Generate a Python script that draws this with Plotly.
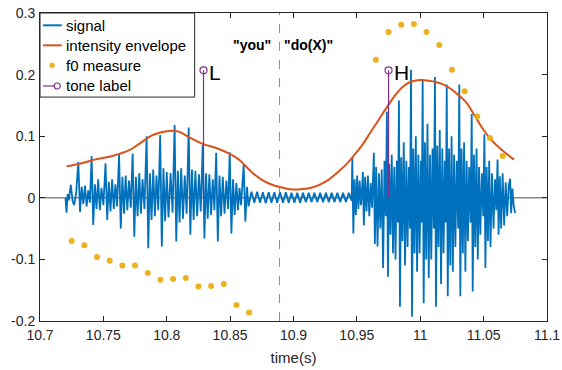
import plotly.graph_objects as go

# ---------------- data ----------------
time_ticks = [10.7, 10.75, 10.8, 10.85, 10.9, 10.95, 11.0, 11.05, 11.1]
time_tick_labels = ["10.7", "10.75", "10.8", "10.85", "10.9", "10.95", "11", "11.05", "11.1"]
amp_ticks = [-0.2, -0.1, 0.0, 0.1, 0.2, 0.3]
amp_tick_labels = ["-0.2", "-0.1", "0", "0.1", "0.2", "0.3"]

# speech signal, first voiced burst (time s, amplitude)
burst1 = [
    (10.7201, 0.000), (10.7209, -0.024), (10.7218, 0.006), (10.7227, -0.004),
    (10.7243, 0.021), (10.7258, -0.006), (10.7270, -0.012), (10.7286, 0.010),
    (10.7302, 0.058), (10.7316, -0.023), (10.7329, 0.018), (10.7342, -0.010),
    (10.7355, 0.020), (10.7368, -0.014), (10.7381, 0.012), (10.7394, -0.008),
    (10.7407, 0.068), (10.7420, -0.044), (10.7433, 0.022), (10.7446, -0.018),
    (10.7459, 0.030), (10.7472, -0.020), (10.7485, 0.016), (10.7500, -0.012),
    (10.7517, 0.056), (10.7530, -0.036), (10.7543, 0.026), (10.7556, -0.022),
    (10.7569, 0.030), (10.7582, -0.018), (10.7595, 0.022), (10.7608, -0.014),
    (10.7624, 0.070), (10.7637, -0.050), (10.7650, 0.034), (10.7663, -0.026),
    (10.7676, 0.036), (10.7689, -0.020), (10.7702, 0.028), (10.7716, -0.016),
    (10.7731, 0.072), (10.7744, -0.063), (10.7757, 0.034), (10.7770, -0.030),
    (10.7783, 0.040), (10.7796, -0.026), (10.7809, 0.030), (10.7824, -0.018),
    (10.7841, 0.100), (10.7854, -0.082), (10.7867, 0.040), (10.7880, -0.036),
    (10.7893, 0.046), (10.7906, -0.030), (10.7919, 0.036), (10.7933, -0.020),
    (10.7948, 0.102), (10.7961, -0.079), (10.7974, 0.048), (10.7987, -0.038),
    (10.8000, 0.042), (10.8014, -0.032), (10.8030, 0.040), (10.8046, -0.024),
    (10.8062, 0.118), (10.8075, -0.071), (10.8088, 0.044), (10.8101, -0.040),
    (10.8114, 0.048), (10.8128, -0.034), (10.8142, 0.036), (10.8157, -0.026),
    (10.8173, 0.114), (10.8186, -0.060), (10.8199, 0.046), (10.8212, -0.036),
    (10.8226, 0.044), (10.8240, -0.030), (10.8254, 0.038), (10.8268, -0.022),
    (10.8284, 0.086), (10.8297, -0.066), (10.8310, 0.040), (10.8323, -0.034),
    (10.8336, 0.038), (10.8350, -0.028), (10.8363, 0.030), (10.8376, -0.020),
    (10.8390, 0.073), (10.8403, -0.071), (10.8416, 0.036), (10.8429, -0.030),
    (10.8442, 0.034), (10.8456, -0.026), (10.8470, 0.028), (10.8484, -0.018),
    (10.8497, 0.074), (10.8510, -0.058), (10.8523, 0.030), (10.8536, -0.028),
    (10.8549, 0.024), (10.8562, -0.020), (10.8574, 0.016), (10.8586, -0.012),
    (10.8607, 0.053), (10.8620, -0.039), (10.8633, 0.018), (10.8645, -0.014),
]

# low-level hum between the two words
hum = [
    (10.8668, 0.010), (10.8691, -0.008), (10.8713, 0.010), (10.8736, -0.008),
    (10.8758, 0.009), (10.8781, -0.009), (10.8804, 0.009), (10.8826, -0.008),
    (10.8849, 0.009), (10.8871, -0.008), (10.8894, 0.009), (10.8917, -0.008),
    (10.8939, 0.009), (10.8962, -0.008), (10.8984, 0.008), (10.9007, -0.008),
    (10.9030, 0.008), (10.9052, -0.008), (10.9075, 0.008), (10.9097, -0.007),
    (10.9120, 0.008), (10.9143, -0.007), (10.9165, 0.008), (10.9188, -0.007),
    (10.9210, 0.008), (10.9233, -0.007), (10.9256, 0.008), (10.9278, -0.007),
    (10.9301, 0.008), (10.9323, -0.007), (10.9346, 0.008), (10.9369, -0.007),
    (10.9391, 0.008), (10.9414, -0.007), (10.9436, 0.008), (10.9459, -0.005),
]

# second voiced burst
burst2 = [
    (10.9464, 0.066), (10.9472, -0.058), (10.9482, 0.030), (10.9492, -0.028),
    (10.9502, 0.036), (10.9512, -0.018), (10.9522, 0.028), (10.9532, -0.012),
    (10.9540, 0.010),
    (10.9547, 0.042), (10.9555, -0.045), (10.9565, 0.034), (10.9576, -0.022),
    (10.9587, 0.036), (10.9598, -0.030), (10.9609, 0.024), (10.9620, -0.016),
    (10.9634, 0.073), (10.9642, -0.075), (10.9652, 0.050), (10.9663, -0.079),
    (10.9674, 0.040), (10.9685, -0.050), (10.9696, 0.046), (10.9707, -0.114),
    (10.9718, 0.060), (10.9728, -0.030),
    (10.9737, 0.140), (10.9745, -0.128), (10.9755, 0.055), (10.9765, -0.060),
    (10.9775, 0.070), (10.9785, -0.090), (10.9795, 0.050), (10.9805, -0.100),
    (10.9815, 0.060), (10.9824, -0.040),
    (10.9832, 0.158), (10.9840, -0.177), (10.9850, 0.066), (10.9860, -0.070),
    (10.9870, 0.090), (10.9880, -0.110), (10.9890, 0.060), (10.9900, -0.080),
    (10.9910, 0.050), (10.9919, -0.050),
    (10.9927, 0.208), (10.9935, -0.193), (10.9945, 0.080), (10.9955, -0.090),
    (10.9965, 0.100), (10.9975, -0.120), (10.9985, 0.070), (10.9995, -0.090),
    (11.0005, 0.060), (11.0012, -0.040),
    (11.0019, 0.192), (11.0027, -0.171), (11.0037, 0.090), (11.0047, -0.100),
    (11.0057, 0.120), (11.0067, -0.130), (11.0077, 0.070), (11.0087, -0.100),
    (11.0097, 0.080), (11.0107, -0.050),
    (11.0116, 0.196), (11.0124, -0.177), (11.0134, 0.085), (11.0144, -0.080),
    (11.0154, 0.110), (11.0164, -0.140), (11.0174, 0.080), (11.0184, -0.090),
    (11.0194, 0.060), (11.0202, -0.040),
    (11.0209, 0.184), (11.0217, -0.160), (11.0227, 0.080), (11.0237, -0.110),
    (11.0247, 0.100), (11.0257, -0.120), (11.0267, 0.070), (11.0277, -0.080),
    (11.0288, 0.060), (11.0299, -0.050),
    (11.0308, 0.184), (11.0316, -0.160), (11.0326, 0.080), (11.0336, -0.090),
    (11.0346, 0.090), (11.0356, -0.120), (11.0366, 0.060), (11.0376, -0.070),
    (11.0386, 0.050), (11.0397, -0.040),
    (11.0406, 0.136), (11.0414, -0.152), (11.0424, 0.070), (11.0434, -0.080),
    (11.0444, 0.080), (11.0454, -0.100), (11.0464, 0.050), (11.0474, -0.060),
    (11.0486, 0.040), (11.0497, -0.030),
    (11.0506, 0.103), (11.0514, -0.114), (11.0524, 0.050), (11.0534, -0.070),
    (11.0544, 0.060), (11.0554, -0.080), (11.0566, 0.040), (11.0578, -0.050),
    (11.0590, 0.030), (11.0600, -0.020),
    (11.0610, 0.062), (11.0618, -0.060), (11.0628, 0.035), (11.0638, -0.050),
    (11.0650, 0.040), (11.0662, -0.045), (11.0674, 0.025), (11.0686, -0.030),
    (11.0698, 0.020),
    (11.0709, 0.031), (11.0717, -0.025), (11.0727, 0.015), (11.0737, -0.012),
    (11.0748, -0.025),
]

# intensity envelope
env_t = [10.721, 10.733, 10.743, 10.757, 10.770, 10.780, 10.788, 10.795, 10.804,
         10.810, 10.817, 10.828, 10.840, 10.850, 10.857, 10.862, 10.868, 10.875,
         10.882, 10.890, 10.897, 10.904, 10.911, 10.918, 10.926, 10.934, 10.941,
         10.947, 10.954, 10.960, 10.967, 10.974, 10.980, 10.986, 10.992, 10.998,
         11.004, 11.010, 11.017, 11.024, 11.030, 11.037, 11.043, 11.050, 11.056,
         11.063, 11.069, 11.074]
env_v = [0.051, 0.056, 0.062, 0.068, 0.077, 0.090, 0.101, 0.106, 0.109,
         0.107, 0.099, 0.088, 0.080, 0.071, 0.062, 0.052, 0.040, 0.029,
         0.022, 0.017, 0.014, 0.0135, 0.015, 0.019, 0.027, 0.040, 0.053,
         0.067, 0.085, 0.104, 0.126, 0.148, 0.166, 0.180, 0.188, 0.191,
         0.191, 0.189, 0.185, 0.177, 0.167, 0.153, 0.133, 0.110, 0.094,
         0.080, 0.070, 0.062]

# f0 measure (scaled)
f0_t = [10.725, 10.735, 10.745, 10.755, 10.765, 10.775, 10.785, 10.795, 10.805,
        10.815, 10.825, 10.835, 10.845, 10.855, 10.865,
        10.965, 10.975, 10.985, 10.995, 11.005, 11.015, 11.025, 11.035, 11.045,
        11.055, 11.065]
f0_v = [-0.070, -0.077, -0.096, -0.102, -0.110, -0.110, -0.122, -0.133, -0.132,
        -0.130, -0.144, -0.143, -0.140, -0.174, -0.186,
        0.224, 0.269, 0.281, 0.282, 0.269, 0.248, 0.208, 0.173, 0.132,
        0.097, 0.068]

# tone labels
tone_t = [10.829, 10.975]
tone_v = [0.207, 0.207]
tone_text = ["L", "H"]

# word boundary and word labels
boundary_t = 10.889
word_left = '"you"'
word_right = '"do(X)"'
word_v = 0.2475

legend_names = ["signal", "intensity envelope", "f0 measure", "tone label"]

# ---------------- figure ----------------
sig = burst1 + hum + burst2
sig_t = [p[0] for p in sig]
sig_v = [p[1] for p in sig]

BLUE = "#0072BD"
ORANGE = "#D95319"
YELLOW = "#EDB120"
PURPLE = "#7E2F8E"
AX = "#262626"
FONT = "Liberation Sans, Arial, sans-serif"

fig = go.Figure()

fig.add_trace(go.Scatter(x=sig_t, y=sig_v, mode="lines", name=legend_names[0],
                         line=dict(color=BLUE, width=1.8)))
fig.add_trace(go.Scatter(x=env_t, y=env_v, mode="lines", name=legend_names[1],
                         line=dict(color=ORANGE, width=2, shape="spline")))
fig.add_trace(go.Scatter(x=f0_t, y=f0_v, mode="markers", name=legend_names[2],
                         marker=dict(color=YELLOW, size=6, symbol="circle")))

stem_x, stem_y = [], []
for t, v in zip(tone_t, tone_v):
    stem_x += [t, t, None]
    stem_y += [0, v, None]
fig.add_trace(go.Scatter(x=stem_x, y=stem_y, mode="lines", name=legend_names[3],
                         line=dict(color=PURPLE, width=1.2), hoverinfo="skip"))
fig.add_trace(go.Scatter(x=tone_t, y=tone_v, mode="markers", name=legend_names[3],
                         marker=dict(symbol="circle-open", size=7, color=PURPLE,
                                     line=dict(width=1.2, color=PURPLE))))

# stem baseline and word boundary
fig.add_shape(type="line", xref="paper", x0=0, x1=1, yref="y", y0=0, y1=0,
              line=dict(color="#8a8a8a", width=1.5), layer="below")
fig.add_shape(type="line", xref="x", x0=boundary_t, x1=boundary_t, yref="paper",
              y0=0, y1=1, line=dict(color="#8a8a8a", width=1, dash="dash"),
              layer="below")

fig.add_annotation(x=boundary_t, y=word_v, text="<b>" + word_left + "</b>",
                   showarrow=False, xanchor="right", yanchor="middle", xshift=-7,
                   font=dict(family=FONT, size=14, color="black"))
fig.add_annotation(x=boundary_t, y=word_v, text="<b>" + word_right + "</b>",
                   showarrow=False, xanchor="left", yanchor="middle", xshift=2,
                   font=dict(family=FONT, size=14, color="black"))
for t, v, s in zip(tone_t, tone_v, tone_text):
    fig.add_annotation(x=t, y=v, text=s, showarrow=False, xanchor="left",
                       yanchor="middle", xshift=3, yshift=-2,
                       font=dict(family=FONT, size=21, color="black"))

# ----- legend box (drawn as a key in paper coordinates) -----
box_x1, box_y0 = 0.305, 0.727
row_y = [0.960, 0.895, 0.830, 0.763]
fig.add_shape(type="rect", xref="paper", yref="paper", x0=0, x1=box_x1, y0=box_y0, y1=1,
              fillcolor="white", line=dict(color=AX, width=1), layer="above")
fig.add_shape(type="line", xref="paper", yref="paper", x0=0.006, x1=0.043,
              y0=row_y[0], y1=row_y[0], line=dict(color=BLUE, width=2), layer="above")
fig.add_shape(type="line", xref="paper", yref="paper", x0=0.006, x1=0.043,
              y0=row_y[1], y1=row_y[1], line=dict(color=ORANGE, width=2), layer="above")
fig.add_shape(type="circle", xref="paper", yref="paper", xsizemode="pixel",
              ysizemode="pixel", xanchor=0.024, yanchor=row_y[2], x0=-2.5, x1=2.5,
              y0=-2.5, y1=2.5, fillcolor=YELLOW, line=dict(color=YELLOW, width=0.5),
              layer="above")
fig.add_shape(type="line", xref="paper", yref="paper", x0=0.006, x1=0.028,
              y0=row_y[3], y1=row_y[3], line=dict(color=PURPLE, width=1.2), layer="above")
fig.add_shape(type="circle", xref="paper", yref="paper", xsizemode="pixel",
              ysizemode="pixel", xanchor=0.034, yanchor=row_y[3], x0=-3, x1=3,
              y0=-3, y1=3, fillcolor="rgba(0,0,0,0)", line=dict(color=PURPLE, width=1.2),
              layer="above")
for name, ry in zip(legend_names, row_y):
    fig.add_annotation(xref="paper", yref="paper", x=0.047, y=ry, text=name,
                       showarrow=False, xanchor="left", yanchor="middle",
                       font=dict(family=FONT, size=15, color="black"))

fig.update_layout(
    width=562, height=370,
    margin=dict(l=40, r=15, t=13, b=49, pad=0),
    paper_bgcolor="white", plot_bgcolor="white",
    font=dict(family=FONT, size=14, color=AX),
    showlegend=False,
    xaxis=dict(range=[10.7, 11.1], tickvals=time_ticks, ticktext=time_tick_labels,
               showline=True, mirror="ticks", linecolor=AX, linewidth=1,
               ticks="inside", ticklen=5, tickcolor=AX, showgrid=False,
               zeroline=False, ticklabelstandoff=1, automargin=False,
               ticklabeloverflow="allow",
               title=dict(text="time(s)", font=dict(family=FONT, size=15, color=AX),
                          standoff=10),
               tickfont=dict(family=FONT, size=14, color=AX)),
    yaxis=dict(range=[-0.2, 0.3], tickvals=amp_ticks, ticktext=amp_tick_labels,
               showline=True, mirror="ticks", linecolor=AX, linewidth=1,
               ticks="inside", ticklen=5, tickcolor=AX, showgrid=False,
               zeroline=False, ticklabelstandoff=1, automargin=False,
               ticklabeloverflow="allow",
               tickfont=dict(family=FONT, size=14, color=AX)),
)

# remove the page's default 8 px body margin so the figure fills the window,
# and hide the interactive mode bar
fig.write_html("out.html", config={"displayModeBar": False},
               post_script="document.body.style.margin='0px';")
